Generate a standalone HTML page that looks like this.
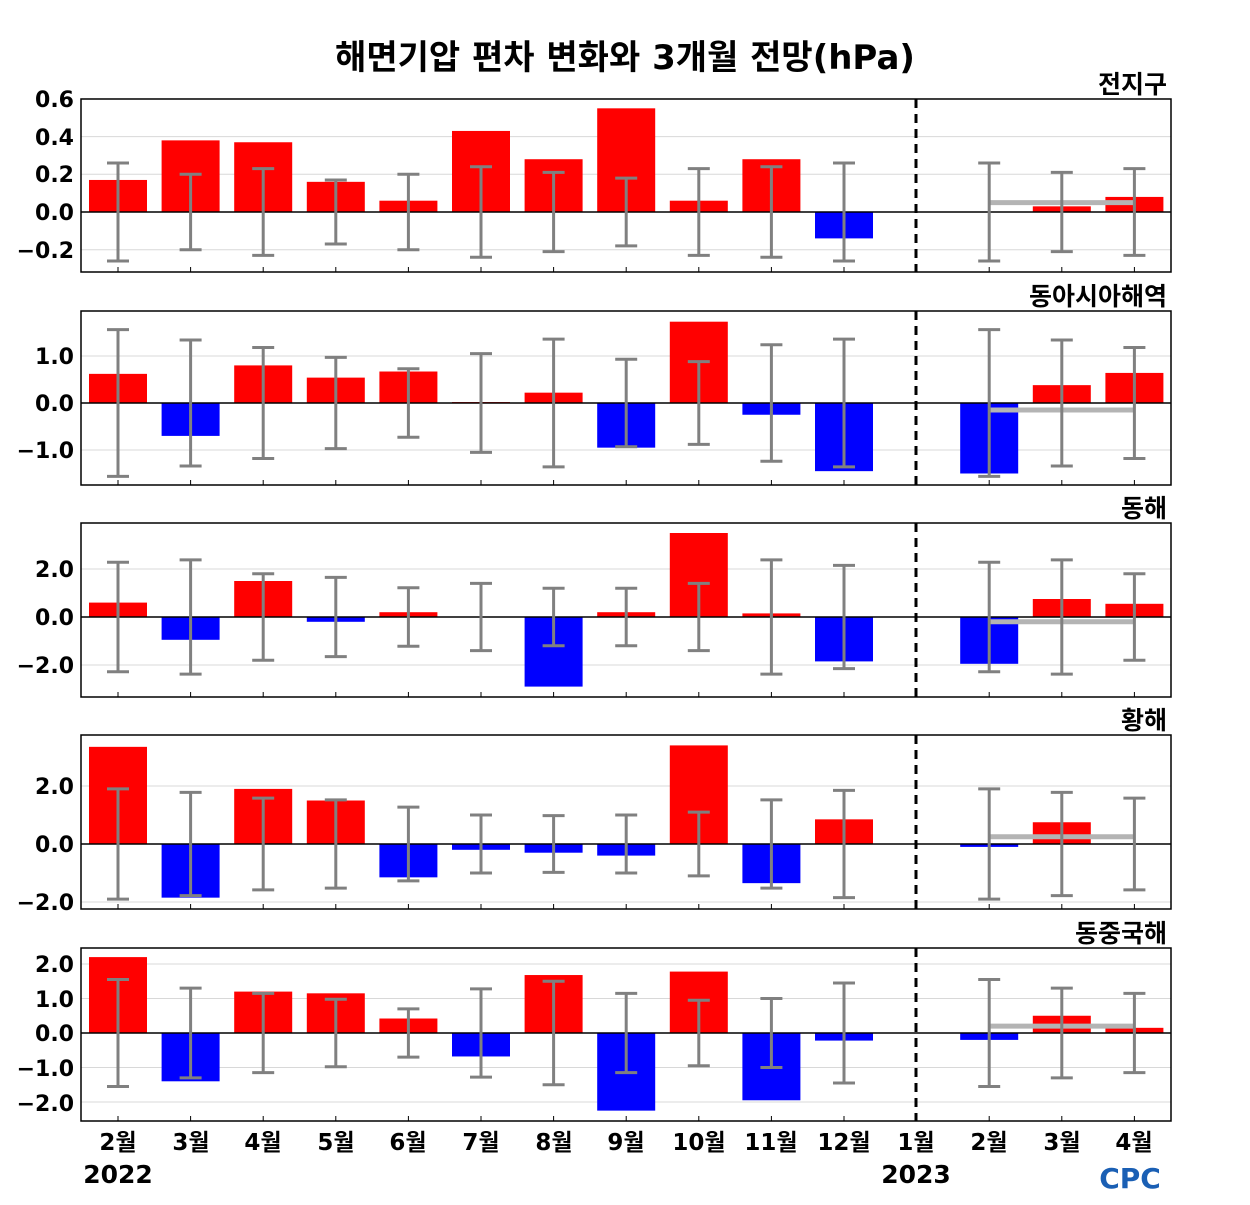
<!DOCTYPE html>
<html><head><meta charset="utf-8">
<style>
html,body{margin:0;padding:0;background:#fff;}
svg text{font-family:"DejaVu Sans","Noto Sans CJK KR","NanumGothic",sans-serif;font-weight:bold;fill:#000;}
</style></head>
<body>
<svg id="s" width="1250" height="1200" xmlns="http://www.w3.org/2000/svg">
<text x="625" y="69" font-size="34" text-anchor="middle">해면기압 편차 변화와 3개월 전망(hPa)</text>
<g font-size="25" text-anchor="end">
<text x="1167" y="93">전지구</text>
<text x="1167" y="305">동아시아해역</text>
<text x="1167" y="517">동해</text>
<text x="1167" y="729">황해</text>
<text x="1167" y="942">동중국해</text>
</g>
<g font-size="22" text-anchor="end">
<text x="74" y="107">0.6</text><text x="74" y="145">0.4</text><text x="74" y="182">0.2</text><text x="74" y="220">0.0</text><text x="74" y="258">−0.2</text>
<text x="74" y="364">1.0</text><text x="74" y="411">0.0</text><text x="74" y="458">−1.0</text>
<text x="74" y="577">2.0</text><text x="74" y="625">0.0</text><text x="74" y="673">−2.0</text>
<text x="74" y="794">2.0</text><text x="74" y="852">0.0</text><text x="74" y="910">−2.0</text>
<text x="74" y="972">2.0</text><text x="74" y="1007">1.0</text><text x="74" y="1041">0.0</text><text x="74" y="1076">−1.0</text><text x="74" y="1111">−2.0</text>
</g>
<g font-size="23" text-anchor="middle">
<text x="118" y="1150">2월</text><text x="191" y="1150">3월</text><text x="263" y="1150">4월</text><text x="336" y="1150">5월</text><text x="408" y="1150">6월</text><text x="481" y="1150">7월</text><text x="554" y="1150">8월</text><text x="626" y="1150">9월</text><text x="699" y="1150">10월</text><text x="771" y="1150">11월</text><text x="844" y="1150">12월</text><text x="916" y="1150">1월</text><text x="989" y="1150">2월</text><text x="1062" y="1150">3월</text><text x="1134" y="1150">4월</text>
</g>
<g font-size="25" text-anchor="middle">
<text x="118" y="1183">2022</text><text x="916" y="1183">2023</text>
</g>
<text x="1130" y="1188" font-size="28" text-anchor="middle" style="fill:#1a5fb4;">CPC</text>
<g id="g"></g>
</svg>
<script>
var P=[
{top:99,bot:272,zero:212,ppu:188.5,ticks:[0.6,0.4,0.2,0,-0.2],
b:[0.17,0.38,0.37,0.16,0.06,0.43,0.28,0.55,0.06,0.28,-0.14,0,0,0.03,0.08],
e:[0.26,0.2,0.23,0.17,0.2,0.24,0.21,0.18,0.23,0.24,0.26,0,0.26,0.21,0.23],g:0.05},
{top:311,bot:485,zero:403,ppu:47,ticks:[1,0,-1],
b:[0.62,-0.7,0.8,0.54,0.67,0.02,0.22,-0.95,1.73,-0.25,-1.45,0,-1.5,0.38,0.64],
e:[1.56,1.34,1.18,0.97,0.73,1.05,1.36,0.93,0.88,1.24,1.36,0,1.56,1.34,1.18],g:-0.15},
{top:523,bot:697,zero:617,ppu:24,ticks:[2,0,-2],
b:[0.6,-0.95,1.5,-0.2,0.2,0.02,-2.9,0.2,3.5,0.15,-1.85,0,-1.95,0.75,0.55],
e:[2.28,2.38,1.8,1.65,1.22,1.4,1.2,1.2,1.4,2.38,2.15,0,2.28,2.38,1.8],g:-0.2},
{top:735,bot:909,zero:844,ppu:29,ticks:[2,0,-2],
b:[3.35,-1.85,1.9,1.5,-1.15,-0.2,-0.3,-0.4,3.4,-1.35,0.85,0,-0.1,0.75,0],
e:[1.9,1.78,1.58,1.52,1.27,1.0,0.98,1.0,1.1,1.52,1.85,0,1.9,1.78,1.58],g:0.25},
{top:948,bot:1121,zero:1033,ppu:34.5,ticks:[2,1,0,-1,-2],
b:[2.2,-1.4,1.2,1.15,0.42,-0.68,1.68,-2.25,1.78,-1.95,-0.22,0,-0.2,0.5,0.15],
e:[1.55,1.3,1.15,0.98,0.7,1.28,1.5,1.15,0.95,1.0,1.45,0,1.55,1.3,1.15],g:0.2}];
var h='';
function X(i){return 118+i*72.6;}
P.forEach(function(p){
 p.ticks.forEach(function(t){if(t!==0){var y=p.zero-t*p.ppu;h+='<line x1="81" x2="1171" y1="'+y+'" y2="'+y+'" stroke="#d8d8d8" stroke-width="1"/>';}});
 p.b.forEach(function(v,i){var y=p.zero-v*p.ppu;var y0=Math.min(y,p.zero),hh=Math.abs(y-p.zero);
  if(hh>0)h+='<rect x="'+(X(i)-29)+'" y="'+y0+'" width="58" height="'+hh+'" fill="'+(v>0?'#ff0000':'#0000ff')+'"/>';});
 h+='<line x1="81" x2="1171" y1="'+p.zero+'" y2="'+p.zero+'" stroke="#000" stroke-width="1.5"/>';
 h+='<line x1="'+X(12)+'" x2="'+X(14)+'" y1="'+(p.zero-p.g*p.ppu)+'" y2="'+(p.zero-p.g*p.ppu)+'" stroke="#b4b4b4" stroke-width="5"/>';
 p.e.forEach(function(v,i){if(!v)return;var a=p.zero-v*p.ppu,b=p.zero+v*p.ppu,x=X(i);
  h+='<g stroke="#808080" stroke-width="3"><line x1="'+x+'" x2="'+x+'" y1="'+a+'" y2="'+b+'"/><line x1="'+(x-11)+'" x2="'+(x+11)+'" y1="'+a+'" y2="'+a+'"/><line x1="'+(x-11)+'" x2="'+(x+11)+'" y1="'+b+'" y2="'+b+'"/></g>';});
 for(var i=0;i<15;i++){h+='<line x1="'+X(i)+'" x2="'+X(i)+'" y1="'+p.bot+'" y2="'+(p.bot-5)+'" stroke="#000"/>';}
 h+='<line x1="916" x2="916" y1="'+p.top+'" y2="'+p.bot+'" stroke="#000" stroke-width="3" stroke-dasharray="9,6"/>';
 h+='<rect x="81" y="'+p.top+'" width="1090" height="'+(p.bot-p.top)+'" fill="none" stroke="#000" stroke-width="1.5"/>';
});
document.getElementById('g').innerHTML=h;
</script>
</body></html>
